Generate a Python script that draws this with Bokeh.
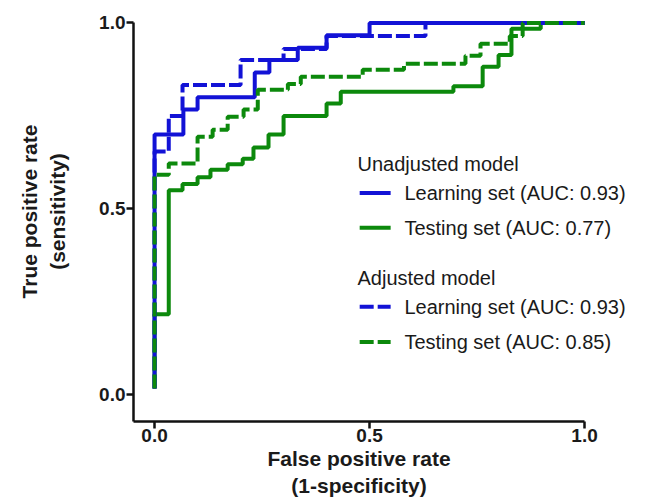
from bokeh.plotting import figure
from bokeh.models import Range1d, Label, FixedTicker, Title
from bokeh.embed import file_html
from bokeh.resources import INLINE

# ---- data (ROC staircase corner points) ----
unadj_learn_fpr = [0.0, 0.0, 0.067, 0.10, 0.233, 0.267, 0.333, 0.40, 0.50, 1.0]
unadj_learn_tpr = [0.017, 0.70, 0.767, 0.80, 0.867, 0.90, 0.933, 0.967, 1.0, 1.0]

unadj_test_fpr = [0.0, 0.0, 0.033, 0.065, 0.10, 0.13, 0.17, 0.205, 0.23, 0.265, 0.30,
                  0.40, 0.433, 0.695, 0.763, 0.80, 0.83, 0.898, 1.0]
unadj_test_tpr = [0.017, 0.217, 0.55, 0.567, 0.585, 0.605, 0.62, 0.635, 0.665, 0.70, 0.75,
                  0.783, 0.815, 0.83, 0.882, 0.914, 0.984, 1.0, 1.0]

adj_learn_fpr = [0.0, 0.0, 0.033, 0.065, 0.20, 0.30, 0.40, 0.63, 1.0]
adj_learn_tpr = [0.017, 0.654, 0.75, 0.833, 0.90, 0.93, 0.965, 1.0, 1.0]

adj_test_fpr = [0.0, 0.0, 0.033, 0.10, 0.135, 0.17, 0.207, 0.24, 0.31, 0.34, 0.484,
                0.58, 0.723, 0.758, 0.826, 0.856, 1.0]
adj_test_tpr = [0.017, 0.592, 0.622, 0.694, 0.713, 0.748, 0.767, 0.82, 0.836, 0.855, 0.874,
                0.89, 0.912, 0.944, 0.965, 1.0, 1.0]

tick_values = [0.0, 0.5, 1.0]
tick_labels = ["0.0", "0.5", "1.0"]

group_titles = ["Unadjusted model", "Adjusted model"]
series_labels = ["Learning set (AUC: 0.93)", "Testing set (AUC: 0.77)",
                 "Learning set (AUC: 0.93)", "Testing set (AUC: 0.85)"]

x_title_lines = ["False positive rate", "(1-specificity)"]
y_title = "True positive rate\n(sensitivity)"

# ---- style ----
BLUE = "#1212d6"
GREEN = "#0c890c"
FONT = "Liberation Sans"
TXT = "#1a1a1a"
DASH = "14 4"
LW = 4

PX_PER_UNIT_X = 430
PX_PER_UNIT_Y = 372
FRAME_LEFT = 133
FRAME_TOP = 1
FRAME_BOTTOM = 421
W, H = 645, 499

Y_TOP = 1.0 + (22.4 - FRAME_TOP) / PX_PER_UNIT_Y
Y_BOT = Y_TOP - (FRAME_BOTTOM - FRAME_TOP) / PX_PER_UNIT_Y
X_LEFT = -0.049
X_RIGHT = X_LEFT + (W - FRAME_LEFT) / PX_PER_UNIT_X

p = figure(width=W, height=H, output_backend="svg", toolbar_location=None,
           x_range=Range1d(X_LEFT, X_RIGHT), y_range=Range1d(Y_BOT, Y_TOP),
           min_border_left=FRAME_LEFT, min_border_right=0, min_border_top=FRAME_TOP,
           min_border_bottom=H - FRAME_BOTTOM)
p.outline_line_color = None
p.grid.visible = False
p.background_fill_color = "white"
p.border_fill_color = "white"

# curves
p.step(unadj_test_fpr, unadj_test_tpr, mode="after", line_color=GREEN, line_width=LW)
p.step(adj_learn_fpr, adj_learn_tpr, mode="after", line_color=BLUE, line_width=LW, line_dash=DASH)
p.step(unadj_learn_fpr, unadj_learn_tpr, mode="after", line_color=BLUE, line_width=LW)
p.step(adj_test_fpr, adj_test_tpr, mode="after", line_color=GREEN, line_width=LW, line_dash=DASH)

# axes
for ax in (p.xaxis[0], p.yaxis[0]):
    ax.ticker = FixedTicker(ticks=tick_values)
    ax.major_label_overrides = dict(zip(tick_values, tick_labels))
    ax.minor_tick_line_color = None
    ax.axis_line_width = 2.5
    ax.axis_line_color = "#111111"
    ax.major_tick_line_width = 2.5
    ax.major_tick_line_color = "#111111"
    ax.major_tick_in = 0
    ax.major_tick_out = 7
    ax.major_label_text_font = FONT
    ax.major_label_text_font_size = "19px"
    ax.major_label_text_font_style = "bold"
    ax.major_label_text_color = TXT
    ax.axis_label_text_font = FONT
    ax.axis_label_text_font_size = "21px"
    ax.axis_label_text_font_style = "bold"
    ax.axis_label_text_color = TXT

p.xaxis.major_label_standoff = 0
p.yaxis.major_label_standoff = 1
p.xaxis.bounds = (X_LEFT, 1.0)
p.yaxis.bounds = (Y_BOT, 1.0)

p.yaxis.axis_label = y_title
p.yaxis.axis_label_standoff = 27

# x-axis title: two centred lines under the axis (centred on the axis span, not the frame)
AXIS_CENTER_PX = 358.5
TITLE_WIDTHS = [183.2, 135.4]  # approximate rendered widths of the two lines at 21px bold
TITLE_STANDOFFS = [3, 0]
for line, wpx, so in zip(x_title_lines, TITLE_WIDTHS, TITLE_STANDOFFS):
    p.add_layout(Title(text=line, align="left", offset=AXIS_CENTER_PX - FRAME_LEFT - wpx / 2,
                       standoff=so, vertical_align="middle", text_font=FONT,
                       text_font_size="21px", text_font_style="bold", text_color=TXT),
                 "below")

# legend
def legend_text(x, y, t):
    p.add_layout(Label(x=x, y=y, text=t, text_align="left", text_baseline="middle",
                       text_font=FONT, text_font_size="20px", text_color=TXT))

legend_rows = [0.543, 0.449, 0.237, 0.142]
legend_colors = [BLUE, GREEN, BLUE, GREEN]
legend_dash = ["solid", "solid", DASH, DASH]
legend_text(0.472, 0.621, group_titles[0])
legend_text(0.472, 0.315, group_titles[1])
for yy, c, d, t in zip(legend_rows, legend_colors, legend_dash, series_labels):
    p.segment(x0=[0.477], y0=[yy], x1=[0.549], y1=[yy], line_color=c, line_width=LW, line_dash=d)
    legend_text(0.581, yy, t)

open("out.html", "w").write(file_html(p, INLINE))
